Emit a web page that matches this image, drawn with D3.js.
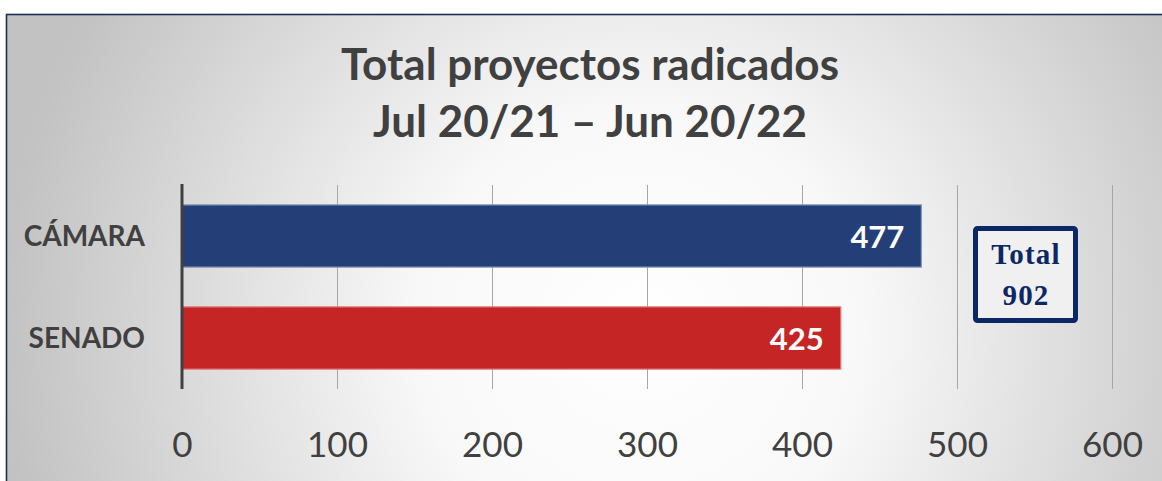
<!DOCTYPE html>
<html>
<head>
<meta charset="utf-8">
<script src="https://cdn.jsdelivr.net/npm/d3@7"></script>
<style>
  body { margin: 0; background: #fff; }
  svg { display: block; }
</style>
</head>
<body>
<div id="chart"></div>
<script>
const titleLines = ["Total proyectos radicados", "Jul 20/21 \u2013 Jun 20/22"]
const categories = ["CÁMARA", "SENADO"]
const values = [477, 425]
const barColors = ["#243f77", "#c62526"]
const barEdges = ["#8696b8", "#e57474"]
const xTicks = [0, 100, 200, 300, 400, 500, 600]
const totalLabel = ["Total", "902"]

const W = 1162, H = 481

let svg = d3.select("#chart")
  .append("svg")
  .attr("width", W)
  .attr("height", H)

// background panel with soft radial shading
let defs = svg.append("defs")
let grad = defs.append("radialGradient")
  .attr("id", "bg")
  .attr("gradientUnits", "userSpaceOnUse")
  .attr("cx", 640).attr("cy", 330).attr("r", 640)
grad.append("stop").attr("offset", "0%").attr("stop-color", "#ffffff")
grad.append("stop").attr("offset", "35%").attr("stop-color", "#f8f8f8")
grad.append("stop").attr("offset", "100%").attr("stop-color", "#c2c2c2")

svg.append("rect")
  .attr("x", 6.5).attr("y", 14.5)
  .attr("width", W + 10).attr("height", H + 10)
  .attr("fill", "url(#bg)")
  .attr("stroke", "#1c2f55")
  .attr("stroke-width", 1.6)

// title
svg.append("text")
  .attr("text-anchor", "middle")
  .attr("font-family", "Lato, 'Open Sans', sans-serif")
  .attr("font-weight", 700)
  .attr("font-size", 44)
  .attr("fill", "#404040")
  .selectAll("tspan")
  .data(titleLines)
  .join("tspan")
  .attr("x", 590)
  .attr("y", (d, i) => 80 + i * 57)
  .text(d => d)

// scales
let x = d3.scaleLinear()
  .domain([0, 600])
  .range([182, 1112])
let y = d3.scaleBand()
  .domain(categories)
  .range([185, 389])
  .paddingInner(0.39)
  .paddingOuter(0.195)

// gridlines
svg.append("g")
  .selectAll("line")
  .data(xTicks.slice(1))
  .join("line")
  .attr("x1", d => Math.round(x(d)) + 0.5)
  .attr("x2", d => Math.round(x(d)) + 0.5)
  .attr("y1", 185).attr("y2", 389)
  .attr("stroke", "#a6a6a6")
  .attr("stroke-width", 1)

// bars
svg.append("g")
  .selectAll("rect")
  .data(values)
  .join("rect")
  .attr("x", x(0))
  .attr("y", (d, i) => y(categories[i]))
  .attr("width", d => x(d) - x(0))
  .attr("height", y.bandwidth())
  .attr("fill", (d, i) => barColors[i])
  .attr("stroke", (d, i) => barEdges[i])
  .attr("stroke-width", 1.2)

// value labels
svg.append("g")
  .selectAll("text")
  .data(values)
  .join("text")
  .attr("x", d => x(d) - 17)
  .attr("y", (d, i) => y(categories[i]) + y.bandwidth() / 2 + 12)
  .attr("text-anchor", "end")
  .attr("font-family", "Lato, 'Open Sans', sans-serif")
  .attr("font-weight", 700)
  .attr("font-size", 31)
  .attr("fill", "#ffffff")
  .text(d => d)

// category axis line
svg.append("line")
  .attr("x1", x(0)).attr("x2", x(0))
  .attr("y1", 184).attr("y2", 389)
  .attr("stroke", "#404040")
  .attr("stroke-width", 3)

// category labels
svg.append("g")
  .selectAll("text")
  .data(categories)
  .join("text")
  .attr("x", 145)
  .attr("y", d => y(d) + y.bandwidth() / 2 + 10)
  .attr("text-anchor", "end")
  .attr("font-family", "Lato, 'Open Sans', sans-serif")
  .attr("font-weight", 700)
  .attr("font-size", 28)
  .attr("fill", "#404040")
  .text(d => d)

// x axis tick labels
let xAxis = svg.append("g")
  .attr("transform", "translate(0,422)")
  .call(d3.axisBottom(x).tickValues(xTicks).tickSize(0).tickPadding(0))
xAxis.select(".domain").remove()
xAxis.selectAll("text")
  .attr("dy", 0)
  .attr("y", 35)
  .attr("font-family", "Lato, 'Open Sans', sans-serif")
  .attr("font-size", 35)
  .attr("fill", "#404040")

// total box
let box = svg.append("g")
box.append("rect")
  .attr("x", 975.5).attr("y", 228.5)
  .attr("width", 100).attr("height", 92)
  .attr("rx", 2)
  .attr("fill", "#f0f0f0")
  .attr("stroke", "#0b2766")
  .attr("stroke-width", 5)
box.append("text")
  .attr("text-anchor", "middle")
  .attr("font-family", "'Liberation Serif', 'DejaVu Serif', serif")
  .attr("font-weight", 700)
  .attr("font-size", 29)
  .attr("letter-spacing", 1.2)
  .attr("fill", "#0b2766")
  .selectAll("tspan")
  .data(totalLabel)
  .join("tspan")
  .attr("x", 1026)
  .attr("y", (d, i) => 264 + i * 41)
  .text(d => d)
</script>
</body>
</html>
